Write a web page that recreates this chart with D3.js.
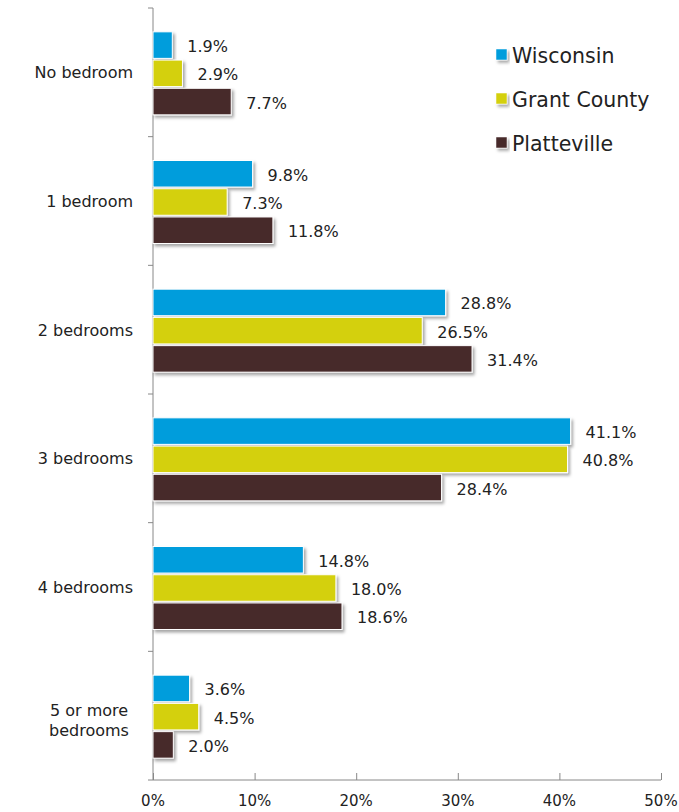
<!DOCTYPE html>
<html><head><meta charset="utf-8">
<script src="https://cdn.jsdelivr.net/npm/d3@7"></script>
<style>body{margin:0;background:#fff}svg{display:block}text{font-family:"DejaVu Sans",sans-serif;fill:#222}</style>
</head><body>
<script>
const categories = ["No bedroom","1 bedroom","2 bedrooms","3 bedrooms","4 bedrooms","5 or more bedrooms"];
const seriesNames = ["Wisconsin","Grant County","Platteville"];
const seriesColors = ["#009DDC","#D4D00F","#472A2B"];
const wisconsin = [1.9, 9.8, 28.8, 41.1, 14.8, 3.6];
const grantCounty = [2.9, 7.3, 26.5, 40.8, 18.0, 4.5];
const platteville = [7.7, 11.8, 31.4, 28.4, 18.6, 2.0];
const xTicks = [0,10,20,30,40,50];

const W=679,H=812;
const svg=d3.select("body").append("svg").attr("width",W).attr("height",H);
const defs=svg.append("defs");
const f=defs.append("filter").attr("id","sh").attr("x","-10%").attr("y","-30%").attr("width","130%").attr("height","180%");
f.append("feDropShadow").attr("dx",2).attr("dy",2.5).attr("stdDeviation",1.5).attr("flood-color","#000").attr("flood-opacity",0.35);

const x=d3.scaleLinear().domain([0,50]).range([153,661]);
const y=d3.scaleBand().domain(categories).range([8,780]).paddingInner(0).paddingOuter(0);
const series=[wisconsin,grantCounty,platteville];
const inner=d3.scaleBand().domain(seriesNames).range([0,83]).paddingInner(0.06);

// axes
const gx=svg.append("g").attr("transform","translate(0,780)")
  .call(d3.axisTop(x).tickValues(xTicks).tickSize(7).tickFormat(""));
gx.selectAll("path,line").attr("stroke","#888");
gx.select(".domain").attr("d","M153,0H661");
svg.selectAll(".xl").data(xTicks).enter().append("text").attr("class","xl")
  .attr("x",d=>x(d)).attr("y",806).attr("text-anchor","middle").attr("font-size",15).text(d=>d+"%");

const yb=[...categories.map(c=>y(c)),780];
svg.append("line").attr("x1",153).attr("x2",153).attr("y1",8).attr("y2",780).attr("stroke","#888");
svg.selectAll(".yt").data(yb).enter().append("line").attr("x1",148).attr("x2",153)
  .attr("y1",d=>d).attr("y2",d=>d).attr("stroke","#888");

categories.forEach((c,i)=>{
  const g0=y(c)+(y.bandwidth()-83)/2+1;
  series.forEach((s,j)=>{
    const yy=g0+inner(seriesNames[j]);
    svg.append("rect").attr("x",x(0)).attr("y",yy).attr("width",x(s[i])-x(0)).attr("height",inner.bandwidth())
      .attr("fill",seriesColors[j]).attr("stroke","#fff").attr("stroke-width",1).attr("filter","url(#sh)");
    svg.append("text").attr("x",x(s[i])+15).attr("y",yy+inner.bandwidth()/2+7).attr("font-size",16)
      .text(s[i].toFixed(1)+"%");
  });
  const cy=y(c)+y.bandwidth()/2;
  if(c==="5 or more bedrooms"){
    const t=svg.append("text").attr("text-anchor","middle").attr("font-size",16);
    t.append("tspan").attr("x",89).attr("y",cy).text("5 or more");
    t.append("tspan").attr("x",89).attr("y",cy+20).text("bedrooms");
  } else {
    svg.append("text").attr("x",133).attr("y",cy+6).attr("text-anchor","end").attr("font-size",16).text(c);
  }
});

// legend
seriesNames.forEach((n,j)=>{
  const ly=56+j*44;
  svg.append("rect").attr("x",496).attr("y",ly-7).attr("width",11).attr("height",11)
    .attr("fill",seriesColors[j]).attr("stroke","#fff").attr("stroke-width",0.5).attr("filter","url(#sh)");
  svg.append("text").attr("x",512).attr("y",ly+7).attr("font-size",20.5).text(n);
});
</script>
</body></html>
